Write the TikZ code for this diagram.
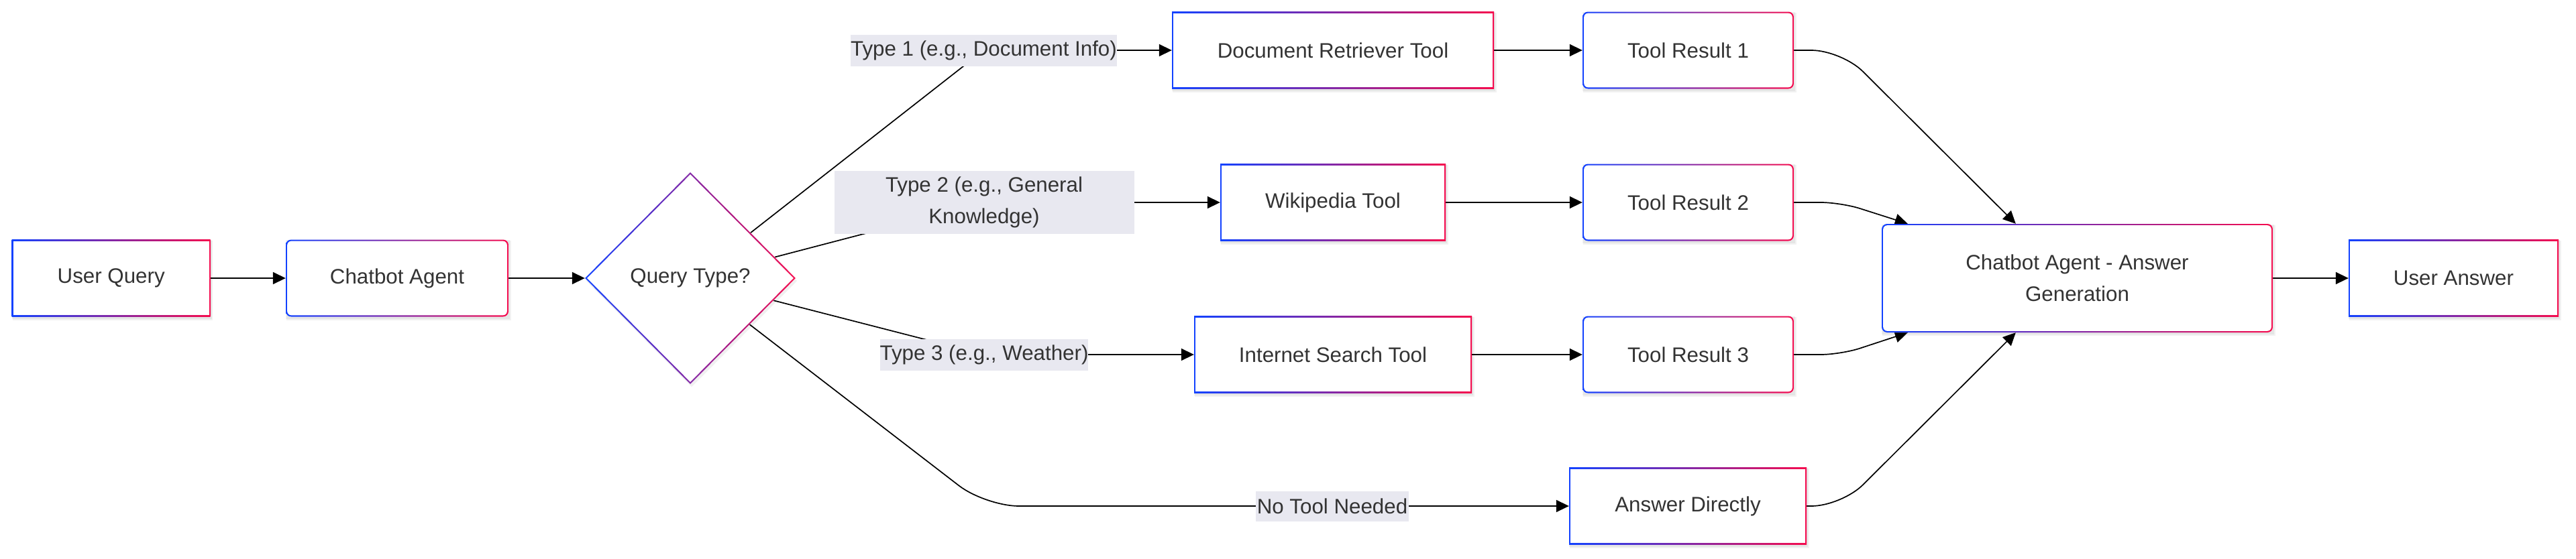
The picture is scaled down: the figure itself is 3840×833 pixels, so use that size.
\documentclass[tikz,border=0pt]{standalone}
\usepackage{fontspec}
\setmainfont{Liberation Sans}
\usetikzlibrary{shapes.geometric,arrows.meta,calc}
\pgfdeclarelayer{background}
\pgfdeclarelayer{edgelayer}
\pgfsetlayers{background,edgelayer,main}
\definecolor{gblue}{RGB}{18,66,255}
\definecolor{gred}{RGB}{245,12,78}
\definecolor{txt}{RGB}{51,51,51}
\definecolor{lblbg}{RGB}{232,232,240}
\tikzset{
  base/.style={inner sep=0pt, text=txt, font=\fontsize{31.3}{47}\selectfont, align=center},
  sz/.style 2 args={minimum width=#1pt, minimum height=#2pt},
  sqbox/.style={base, rectangle, fill=white, path picture={
    \fill[left color=gblue, right color=gred] (path picture bounding box.south west) rectangle (path picture bounding box.north east);
    \fill[white, sharp corners] ($(path picture bounding box.south west)+(2.2pt,2.2pt)$) rectangle ($(path picture bounding box.north east)-(2.2pt,2.2pt)$);}},
  rdbox/.style={base, rectangle, rounded corners=8pt, fill=white, path picture={
    \fill[left color=gblue, right color=gred, sharp corners] (path picture bounding box.south west) rectangle (path picture bounding box.north east);
    \fill[white, rounded corners=6pt] ($(path picture bounding box.south west)+(2.2pt,2.2pt)$) rectangle ($(path picture bounding box.north east)-(2.2pt,2.2pt)$);}},
  dia/.style={base, diamond, fill=white, path picture={
    \fill[left color=gblue, right color=gred] (path picture bounding box.south west) rectangle (path picture bounding box.north east);
    \fill[white] ($(path picture bounding box.west)+(3.1pt,0pt)$) -- ($(path picture bounding box.north)-(0pt,3.1pt)$) -- ($(path picture bounding box.east)-(3.1pt,0pt)$) -- ($(path picture bounding box.south)+(0pt,3.1pt)$) -- cycle;}},
  lbl/.style={base, rectangle, fill=lblbg},
  edge/.style={draw=black, line width=1.7pt, -{Triangle[length=19pt,width=18pt]}}
}
\begin{document}
\begin{tikzpicture}[x=1pt,y=-1pt]
\useasboundingbox (0,0) rectangle (3840,833);
\begin{pgfonlayer}{background}
\fill[white] (0,0) rectangle (3840,833);
\end{pgfonlayer}

% nodes
\node[sqbox, sz={296}{115}] (uq) at (165.7,415) {User Query};
\node[rdbox, sz={332}{115}] (ca) at (592,415) {Chatbot Agent};
\node[dia, sz={314}{316}] (q) at (1029,415) {Query Type?};
\node[sqbox, sz={480}{115}] (doc) at (1987,75) {Document Retriever Tool};
\node[rdbox, sz={315}{115}] (tr1) at (2516.5,75) {Tool Result 1};
\node[sqbox, sz={336}{115}] (wiki) at (1987,302) {Wikipedia Tool};
\node[rdbox, sz={315}{115}] (tr2) at (2516.5,302) {Tool Result 2};
\node[sqbox, sz={414}{115}] (inet) at (1987,529) {Internet Search Tool};
\node[rdbox, sz={315}{115}] (tr3) at (2516.5,529) {Tool Result 3};
\node[sqbox, sz={354}{115}] (ad) at (2516,755) {Answer Directly};
\node[rdbox, sz={583}{162}] (ag) at (3096.5,415) {Chatbot Agent - Answer\\Generation};
\node[sqbox, sz={313}{115}] (ua) at (3657.5,415) {User Answer};

% edge labels
\node[lbl, sz={397}{47}] (l1) at (1466.5,75) {Type 1 (e.g., Document Info)};
\node[lbl, sz={447}{94}] (l2) at (1467,302) {Type 2 (e.g., General\\Knowledge)};
\node[lbl, sz={310}{47}] (l3) at (1467,529) {Type 3 (e.g., Weather)};
\node[lbl, sz={228}{45}] (l4) at (1986,755) {No Tool Needed};

% shadows
\begin{pgfonlayer}{background}
\foreach \n in {uq,ca,doc,tr1,wiki,tr2,inet,tr3,ad,ag,ua}{
  \fill[black,opacity=0.05] ($(\n.south west)+(1pt,-5pt)$) rectangle ($(\n.north east)+(3.5pt,-2pt)$);
  \fill[black,opacity=0.05] ($(\n.south west)+(0pt,-3pt)$) rectangle ($(\n.north east)+(2pt,-1pt)$);
}
\fill[black,opacity=0.06] ($(q.north)+(2pt,-4pt)$) -- ($(q.east)+(2pt,-4pt)$) -- ($(q.south)+(2pt,-4pt)$) -- ($(q.west)+(2pt,-4pt)$) -- cycle;
\end{pgfonlayer}

% edges
\begin{pgfonlayer}{edgelayer}
\draw[edge] (uq.east) -- (ca.west);
\draw[edge] (ca.east) -- (q.west);
\draw[edge] (q.37) -- (l1.center) -- (doc.west);
\draw[edge] (q.14) -- (l2.center) -- (wiki.west);
\draw[edge] (q.-15) -- (l3.center) -- (inet.west);
\draw[edge, rounded corners=50pt] (q.-38) -- (1469,755) -- (l4.center) -- (ad.west);
\draw[edge] (doc.east) -- (tr1.west);
\draw[edge] (wiki.east) -- (tr2.west);
\draw[edge] (inet.east) -- (tr3.west);
\draw[edge, rounded corners=45pt] (tr1.east) -- ++(71,0) -- ($(ag.north west)+(200pt,0pt)$);
\draw[edge, rounded corners=30pt] (tr2.east) -- ++(70,0) -- ($(ag.north west)+(39pt,0pt)$);
\draw[edge, rounded corners=30pt] (tr3.east) -- ++(70,0) -- ($(ag.south west)+(39pt,0pt)$);
\draw[edge, rounded corners=45pt] (ad.east) -- ++(52,0) -- ($(ag.south west)+(200pt,0pt)$);
\draw[edge] (ag.east) -- (ua.west);
\end{pgfonlayer}
\end{tikzpicture}
\end{document}
